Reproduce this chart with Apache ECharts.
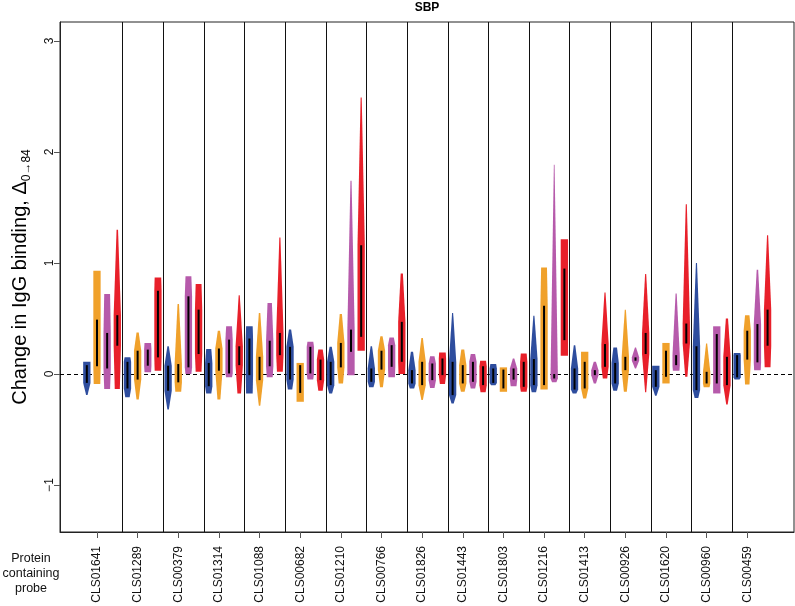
<!DOCTYPE html>
<html><head><meta charset="utf-8">
<script src="https://cdn.jsdelivr.net/npm/echarts@6/dist/echarts.min.js"></script>
<style>html,body{margin:0;padding:0;background:#fff}#c{width:795px;height:606px}</style>
</head><body><div id="c"></div>
<script>
// ---------------- data ----------------
const categories = ['CLS01641','CLS01289','CLS00379','CLS01314','CLS01088','CLS00682','CLS01210','CLS00766','CLS01826','CLS01443','CLS01803','CLS01216','CLS01413','CLS00926','CLS01620','CLS00960','CLS00459'];
const yTicks = [-1, 0, 1, 2, 3];
const title = 'SBP';

// blue
const blueMin = [-0.19,-0.21,-0.32,-0.175,-0.175,-0.14,-0.175,-0.12,-0.13,-0.265,-0.10,-0.165,-0.175,-0.15,-0.195,-0.215,-0.05];
const blueQ1  = [-0.08,-0.13,-0.15,-0.11,-0.01,-0.05,-0.10,-0.07,-0.085,-0.19,-0.08,-0.10,-0.14,-0.085,-0.115,-0.145,-0.03];
const blueQ3  = [0.08,0.11,0.075,0.10,0.32,0.245,0.11,0.05,0.035,0.11,0.05,0.135,0.05,0.10,0.035,0.25,0.17];
const blueMax = [0.11,0.15,0.25,0.225,0.43,0.40,0.245,0.25,0.20,0.55,0.09,0.525,0.26,0.24,0.075,1.0,0.19];
const blueDensAtMin = [0.2,0.6,0.2,0.7,0.9,0.6,0.4,0.6,0.6,0.3,0.6,0.6,0.5,0.5,0.2,0.5,0.7];
const blueDensAtMax = [1.0,0.8,0.2,0.7,0.9,0.3,0.3,0.2,0.3,0.15,0.8,0.15,0.2,0.5,1.0,0.15,0.9];

// orange
const orangeMin = [-0.09,-0.23,-0.16,-0.23,-0.285,-0.25,-0.085,-0.12,-0.235,-0.16,-0.16,-0.14,-0.22,-0.16,-0.085,-0.12,-0.095];
const orangeQ1  = [0.07,-0.05,-0.075,0.03,-0.055,-0.17,0.06,0.04,-0.10,-0.085,-0.13,-0.10,-0.13,0.035,-0.025,-0.085,0.13];
const orangeQ3  = [0.49,0.21,0.09,0.23,0.155,0.08,0.28,0.21,0.11,0.08,0.04,0.615,0.11,0.155,0.21,0.02,0.39];
const orangeMax = [0.93,0.375,0.63,0.39,0.55,0.10,0.54,0.34,0.325,0.22,0.06,0.96,0.20,0.58,0.28,0.275,0.53];
const orangeDensAtMin = [0.9,0.3,0.8,0.4,0.2,1,0.6,0.4,0.2,0.5,1,1,0.4,0.4,1,0.8,0.6];
const orangeDensAtMax = [1.0,0.3,0.2,0.3,0.2,1,0.3,0.3,0.2,0.4,1,0.8,1,0.15,1,0.15,0.6];

// purple
const purpleMin = [-0.135,0.015,0.0,-0.03,-0.03,-0.05,-0.01,-0.03,-0.125,-0.13,-0.11,-0.075,-0.085,0.05,0.03,-0.175,0.035];
const purpleQ1  = [0.05,0.075,0.06,0.005,0.07,0.005,0.20,0.065,-0.055,-0.07,-0.05,-0.04,-0.01,0.12,0.08,-0.085,0.105];
const purpleQ3  = [0.37,0.22,0.70,0.31,0.30,0.245,0.40,0.26,0.095,0.11,0.05,0.0,0.035,0.15,0.17,0.36,0.45];
const purpleMax = [0.72,0.28,0.88,0.43,0.64,0.29,1.74,0.33,0.16,0.18,0.14,1.885,0.11,0.24,0.725,0.43,0.94];
const purpleDensAtMin = [0.8,0.9,0.8,0.8,0.8,0.8,1,0.9,0.6,0.6,0.8,0.6,0.3,0.15,0.9,1,0.9];
const purpleDensAtMax = [0.8,0.9,0.8,0.8,0.6,0.8,0.15,0.6,0.6,0.6,0.2,0.1,0.3,0.15,0.15,1,0.2];

// red
const redMin = [-0.135,0.03,0.02,-0.175,0.02,-0.15,0.21,0.0,-0.09,-0.165,-0.16,0.165,-0.04,-0.165,-0.025,-0.275,0.06];
const redQ1  = [0.255,0.15,0.18,0.08,0.17,-0.055,0.335,0.11,-0.01,-0.10,-0.115,0.305,0.065,0.18,0.275,-0.10,0.255];
const redQ3  = [0.53,0.75,0.58,0.25,0.37,0.13,1.16,0.47,0.14,0.07,0.11,0.95,0.27,0.37,0.455,0.155,0.58];
const redMax = [1.30,0.87,0.81,0.71,1.23,0.22,2.49,0.905,0.195,0.12,0.185,1.215,0.735,0.90,1.53,0.50,1.25];
const redDensAtMin = [0.7,0.9,0.8,0.5,0.8,0.6,1,0.9,0.7,0.7,0.8,1,0.6,0.15,0.3,0.2,0.8];
const redDensAtMax = [0.2,0.9,0.8,0.15,0.15,0.6,0.15,0.3,0.9,0.8,0.8,1,0.15,0.15,0.15,0.3,0.15];

// ---------------- chart ----------------
const FONT = '"Liberation Sans", Arial, Helvetica, sans-serif';
const HALF = 0.09;          // half width of a violin, x units
const X_MIN = 0.09, X_MAX = 18.15, Y_MIN = -1.423, Y_MAX = 3.171;
const groups = [
  {name:'blue',   color:'#2E4D9E', offset:-0.25, min:blueMin,   q1:blueQ1,   q3:blueQ3,   max:blueMax,   dMin:blueDensAtMin,   dMax:blueDensAtMax},
  {name:'orange', color:'#F0A12B', offset: 0.00, min:orangeMin, q1:orangeQ1, q3:orangeQ3, max:orangeMax, dMin:orangeDensAtMin, dMax:orangeDensAtMax},
  {name:'purple', color:'#B65AAB', offset: 0.25, min:purpleMin, q1:purpleQ1, q3:purpleQ3, max:purpleMax, dMin:purpleDensAtMin, dMax:purpleDensAtMax},
  {name:'red',    color:'#E8202A', offset: 0.50, min:redMin,    q1:redQ1,    q3:redQ3,    max:redMax,    dMin:redDensAtMin,    dMax:redDensAtMax}
];
const catPos = categories.map((c, i) => i + 1);
const sepGap = 0.625; // midway between last violin of a group and first of next

function violinSeries(g) {
  return {
    type: 'custom',
    name: g.name,
    z: 3,
    data: categories.map((c, i) => [catPos[i], g.min[i], g.q1[i], g.q3[i], g.max[i], g.dMin[i], g.dMax[i]]),
    encode: {x: 0, y: [1, 4]},
    renderItem: function (params, api) {
      const x = api.value(0) + g.offset;
      const lo = api.value(1), q1 = api.value(2), q3 = api.value(3), hi = api.value(4);
      const dLo = api.value(5), dHi = api.value(6);
      const b1 = Math.max(lo, q1), b2 = Math.min(hi, q3);
      const pts = [
        [x - HALF * dLo, lo], [x - HALF, b1], [x - HALF, b2], [x - HALF * dHi, hi],
        [x + HALF * dHi, hi], [x + HALF, b2], [x + HALF, b1], [x + HALF * dLo, lo]
      ].map(p => api.coord(p));
      const a = api.coord([x, q1]), b = api.coord([x, q3]);
      return {
        type: 'group',
        children: [
          {type: 'polygon', shape: {points: pts}, style: {fill: g.color}},
          {type: 'line', shape: {x1: a[0], y1: a[1], x2: b[0], y2: b[1]}, style: {stroke: '#000', lineWidth: 2}}
        ]
      };
    }
  };
}

const separatorSeries = {
  type: 'custom',
  name: 'separators',
  z: 2,
  silent: true,
  data: catPos.slice(0, -1).map(v => [v]),
  encode: {x: 0},
  renderItem: function (params, api) {
    const cs = params.coordSys;
    const px = Math.round(api.coord([api.value(0) + sepGap, 0])[0]) + 0.5;
    return {type: 'line', shape: {x1: px, y1: cs.y, x2: px, y2: cs.y + cs.height},
            style: {stroke: '#111', lineWidth: 1}};
  }
};

const zeroLineSeries = {
  type: 'custom',
  name: 'zero',
  z: 2,
  silent: true,
  data: [[0]],
  encode: {y: 0},
  renderItem: function (params, api) {
    const cs = params.coordSys;
    const py = Math.round(api.coord([X_MIN, api.value(0)])[1]) + 0.5;
    return {type: 'line', shape: {x1: cs.x, y1: py, x2: cs.x + cs.width, y2: py},
            style: {stroke: '#000', lineWidth: 1, lineDash: [4, 3]}};
  }
};

const chart = echarts.init(document.getElementById('c'), null, {renderer: 'canvas'});
chart.setOption({
  animation: false,
  backgroundColor: '#fff',
  grid: {left: 60, right: 1, top: 22, bottom: 74, show: true, borderColor: '#222', borderWidth: 1,
         containLabel: false, outerBoundsMode: 'none'},
  xAxis: {
    type: 'value',
    min: X_MIN, max: X_MAX,
    splitLine: {show: false},
    axisLine: {show: true, onZero: false, lineStyle: {color: '#222'}},
    axisTick: {show: true, length: 6, lineStyle: {color: '#555'}, customValues: catPos},
    axisLabel: {
      customValues: catPos,
      rotate: 90, margin: 14,
      fontFamily: FONT, fontSize: 12, color: '#111',
      formatter: v => categories[Math.round(v) - 1] || ''
    }
  },
  yAxis: {
    type: 'value',
    min: Y_MIN, max: Y_MAX,
    splitLine: {show: false},
    axisLine: {show: true, onZero: false, lineStyle: {color: '#222'}},
    axisTick: {show: true, length: 6, lineStyle: {color: '#555'}, customValues: yTicks},
    axisLabel: {
      customValues: yTicks,
      rotate: 90, margin: 4,
      fontFamily: FONT, fontSize: 12, color: '#111',
      formatter: v => String(v).replace('-', '\u2212')
    },
    name: '{a|Change in IgG binding, \u0394}{b|0\u219284}',
    nameLocation: 'middle',
    nameGap: 27,
    nameRotate: 90,
    nameTextStyle: {
      fontFamily: FONT, fontSize: 20, color: '#000',
      rich: {
        a: {fontFamily: FONT, fontSize: 20, color: '#000', lineHeight: 25},
        b: {fontFamily: FONT, fontSize: 12, color: '#000', verticalAlign: 'bottom', lineHeight: 25}
      }
    }
  },
  graphic: [
    {type: 'text', x: 427, y: 8, silent: true,
     style: {text: title, font: 'bold 12px ' + FONT, fill: '#000', textAlign: 'center', textVerticalAlign: 'middle'}},
    {type: 'text', x: 31, y: 574, silent: true,
     style: {text: 'Protein\ncontaining\nprobe', font: '12.5px ' + FONT, fill: '#111', textAlign: 'center', textVerticalAlign: 'middle', lineHeight: 15}}
  ],
  series: [separatorSeries, zeroLineSeries].concat(groups.map(violinSeries))
});
</script>
</body></html>
